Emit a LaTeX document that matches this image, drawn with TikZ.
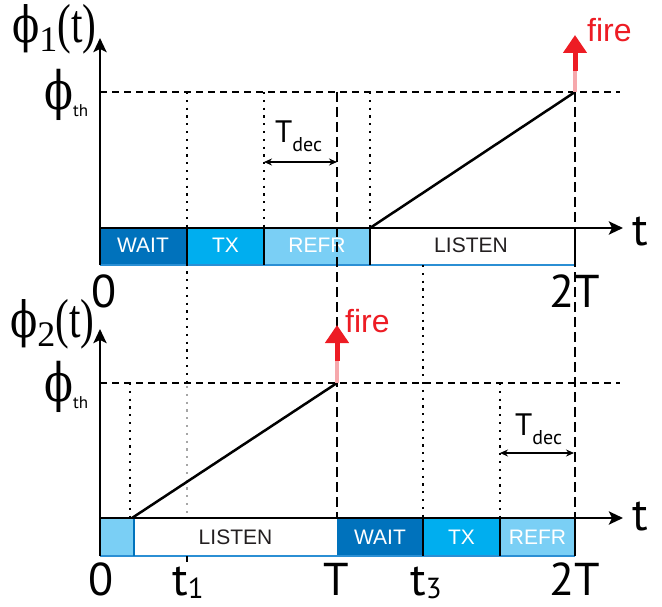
\documentclass[tikz,border=0pt]{standalone}
\usepackage{fontspec}
\setmainfont{Liberation Sans}
\newfontfamily\lab{PT Sans}
\newfontfamily\grk{Liberation Serif}
\newfontfamily\phifont{DejaVu Serif}
\usetikzlibrary{arrows.meta}
\definecolor{waitc}{HTML}{0072BC}
\definecolor{txc}{HTML}{00AEEF}
\definecolor{refc}{HTML}{7ACFF5}
\definecolor{edgec}{HTML}{2B8FD4}
\definecolor{firec}{HTML}{ED1C24}
\definecolor{pinkc}{HTML}{F6A8AC}
\definecolor{listc}{HTML}{231F20}
\newcommand\fs[1]{\fontsize{#1bp}{#1bp}\selectfont}
\newcommand\myphi[1]{\scalebox{0.8}[1]{\phifont\fs{#1}ϕ}}
\begin{document}
\begin{tikzpicture}[x=1bp,y=-1bp,
  axis/.style={line width=2.8bp,-{Stealth[length=14bp,width=13bp,inset=3bp]}},
  thr/.style={line width=1.8bp,dash pattern=on 7bp off 5bp},
  dotl/.style={line width=2.2bp,dash pattern=on 2.2bp off 5.6bp},
  graydot/.style={dotl,black!35},
  longdash/.style={line width=1.8bp,dash pattern=on 10bp off 5bp},
  ramp/.style={line width=2.5bp},
  decarrow/.style={line width=1.2bp,{Stealth[length=8bp,width=7bp]}-{Stealth[length=8bp,width=7bp]}},
  divider/.style={line width=1.3bp},
  bottomedge/.style={line width=1.5bp,edgec},
  barlab/.style={font=\fs{21},text=white,anchor=base},
  listlab/.style={font=\fs{21},text=listc,anchor=base},
  biglab/.style={font=\lab\fs{46},anchor=base,inner sep=0pt},
  firelab/.style={font=\fs{32},text=firec,anchor=base west,inner sep=0pt},
  firehead/.style={firec,line width=5bp,-{Triangle[length=18bp,width=23bp]}},
  fireshaft/.style={pinkc,line width=4.5bp},
  phlab/.style={anchor=base west,inner sep=0pt}]
\useasboundingbox (0,0) rectangle (662,607);

% ---------- top bar ----------
\fill[waitc] (100,228) rectangle (187,265);
\fill[txc] (187,228) rectangle (264,265);
\fill[refc] (264,228) rectangle (370,265);
\draw[bottomedge] (100,265) -- (575,265);
\foreach \x in {187,264,370,575} \draw[divider] (\x,228) -- (\x,265);
\node[barlab] (w1) at (143,252) {WAIT};
\node[barlab] (tx1) at (225.5,252) {TX};
\node[barlab] (r1) at (317,252) {REFR};
\node[listlab] (l1) at (471,252) {LISTEN};

% ---------- bottom bar ----------
\fill[refc] (100,518) rectangle (134,556);
\fill[waitc] (337,518) rectangle (423,556);
\fill[txc] (423,518) rectangle (500,556);
\fill[refc] (500,518) rectangle (575,556);
\draw[bottomedge] (100,556) -- (575,556);
\draw[line width=1.2bp,waitc] (134,518) -- (134,556);
\foreach \x in {423,500,575} \draw[divider] (\x,518) -- (\x,556);
\draw[line width=1.3bp] (187,556) -- (187,562);
\node[listlab] (l2) at (235.5,544) {LISTEN};
\node[barlab] (w2) at (380,544) {WAIT};
\node[barlab] (tx2) at (461.5,544) {TX};
\node[barlab] (r2) at (537.5,544) {REFR};

% ---------- guide lines ----------
\draw[thr] (100,92) -- (620,92);
\draw[thr] (100,383) -- (620,383);
\draw[dotl] (187,92) -- (187,383);
\draw[graydot] (187,386) -- (187,518);
\draw[dotl] (264,92) -- (264,228);
\draw[dotl] (370,92) -- (370,228);
\draw[dotl] (423,265) -- (423,518);
\draw[dotl] (130,383) -- (130,518);
\draw[dotl] (500,383) -- (500,518);
\draw[longdash] (337,92) -- (337,518);
\draw[longdash] (575,92) -- (575,557);

% ---------- axes ----------
\coordinate (o1) at (100,228);
\coordinate (o2) at (100,518);
\draw[axis] (100,265) -- (100,38);
\draw[axis] (o1) -- (623,228);
\draw[axis] (100,556) -- (100,329);
\draw[axis] (o2) -- (623,518);

% ---------- ramps ----------
\coordinate (s1) at (370,228);
\coordinate (f1) at (575,92);
\coordinate (s2) at (132,518);
\coordinate (f2) at (337,383);
\draw[ramp] (s1) -- (f1);
\draw[ramp] (s2) -- (f2);

% ---------- fire arrows ----------
\draw[fireshaft] (f1) -- (575,70);
\draw[firehead] (575,71) -- (575,35);
\node[firelab] (fire1) at (587,42) {fire};
\draw[fireshaft] (f2) -- (337,360);
\draw[firehead] (337,361) -- (337,325);
\node[firelab] (fire2) at (345,332) {fire};

% ---------- T_dec ----------
\draw[decarrow] (264,162) -- (337,162);
\node[phlab] (td1) at (275,143) {\lab\fs{31}T\raisebox{-9bp}{\fs{20}dec}};
\draw[decarrow] (500,453) -- (574,453);
\node[phlab] (td2) at (515,435) {\lab\fs{31}T\raisebox{-9bp}{\fs{20}dec}};

% ---------- axis labels ----------
\node[phlab] (phi1) at (12,43) {\myphi{50}\grk\raisebox{-9bp}{\fs{36}1}\scalebox{0.75}[1]{\fs{55}(t)}};
\node[phlab] (phth1) at (44,110) {\myphi{53}\lab\fs{17}\raisebox{-7bp}{th}};
\node[phlab] (phi2) at (10,337) {\myphi{50}\grk\raisebox{-9bp}{\fs{36}2}\scalebox{0.75}[1]{\fs{55}(t)}};
\node[phlab] (phth2) at (44,401) {\myphi{53}\lab\fs{17}\raisebox{-7bp}{th}};

\node[biglab] (z1) at (104,307) {0};
\node[biglab] (tt1) at (575,307) {2T};
\node[biglab,anchor=base west] (ta1) at (632,245) {t};
\node[biglab] (z2) at (101,595) {0};
\node[biglab,anchor=base west] (t1) at (172,595) {t\raisebox{-3bp}{\fs{29}1}};
\node[biglab] (T) at (336,595) {T};
\node[biglab,anchor=base west] (t3) at (410,595) {t\raisebox{-3bp}{\fs{29}3}};
\node[biglab] (tt2) at (575,595) {2T};
\node[biglab,anchor=base west] (ta2) at (632,530) {t};
\end{tikzpicture}
\end{document}
